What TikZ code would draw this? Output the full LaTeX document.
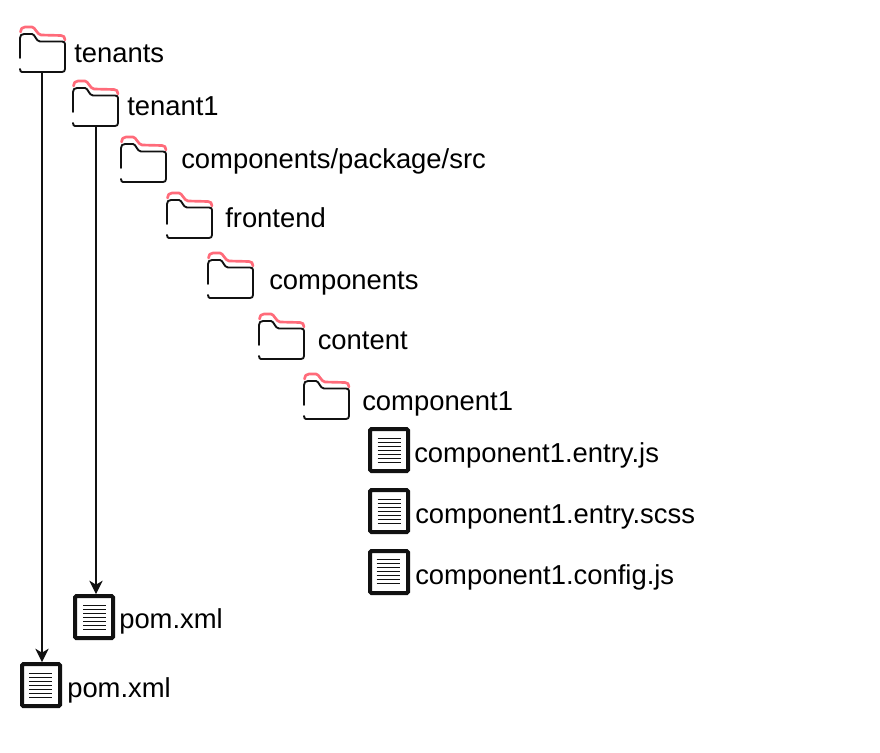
\documentclass[tikz,border=0pt]{standalone}
\usepackage{fontspec}
\setmainfont{Liberation Sans}
\usetikzlibrary{arrows.meta}
\definecolor{tabred}{HTML}{FF6B7A}
\definecolor{ink}{HTML}{111111}
\tikzset{
  x=0.75pt,y=-0.75pt,
  label text/.style={anchor=base west,inner sep=0pt,font=\fontsize{20.55pt}{24pt}\selectfont,text=black},
  doc box/.style={draw=ink,line width=3pt,rounded corners=1pt,fill=white,minimum width=28.5pt,minimum height=31.5pt,inner sep=0pt,anchor=north west},
  doc lines/.style={draw=ink,line width=1.15pt},
  folder line/.style={draw=ink,line width=1.4pt,line cap=round,line join=round},
  tab line/.style={draw=tabred,line width=2pt,line cap=round,line join=round},
  link/.style={draw=ink,line width=0.9pt,-{Stealth[length=10pt,width=10pt,inset=3pt]}},
  folder/.pic={
    \path[tab line] (0.5,5) .. controls (0.5,2) and (2,0) .. (5,0) -- (12,0) .. controls (15,0) and (17,7.5) .. (21,8) -- (41,8.5) .. controls (43.5,8.5) and (45,10) .. (45,13);
    \path[folder line] (0,31) -- (0,11) .. controls (0,8.5) and (1.5,7) .. (4,7) -- (12,7) .. controls (15,7) and (16,14.5) .. (20,14.5) -- (42,14.5) .. controls (44,14.5) and (45,15.5) .. (45,17) -- (45,42) .. controls (45,44) and (44,45) .. (42,45) -- (2,45) .. controls (1,45) and (0,44) .. (0,42);
  },
  doclines/.pic={
    \foreach \yy in {0,4,...,24} {\path[doc lines] (0,\yy) -- (23,\yy);}
  }
}
\begin{document}
\begin{tikzpicture}
\useasboundingbox (0,0) rectangle (880,752);
\path (20,27) pic {folder};
\coordinate (f1) at (42,72);
\path (73,81) pic {folder};
\coordinate (f2) at (96,126);
\path (121,137) pic {folder};
\path (167,193) pic {folder};
\path (208,253) pic {folder};
\path (259,314) pic {folder};
\path (304,374) pic {folder};

\node[label text] (tenants) at (74,63) {tenants};
\node[label text] (tenant1) at (127,116) {tenant1};
\node[label text] (cps) at (181,169) {components/package/src};
\node[label text] (frontend) at (225,227) {frontend};
\node[label text] (components) at (269,289) {components};
\node[label text] (content) at (317.5,349) {content};
\node[label text] (component1) at (362,410) {component1};
\node[label text] (entryjs) at (414,462) {component1.entry.js};
\node[label text] (entryscss) at (415,523) {component1.entry.scss};
\node[label text] (configjs) at (415,584) {component1.config.js};
\node[label text] (pom2) at (119,628) {pom.xml};
\node[label text] (pom1) at (67,697) {pom.xml};

\node[doc box] (d1) at (368,427) {};
\node[doc box] (d2) at (368,488) {};
\node[doc box] (d3) at (368,549) {};
\node[doc box] (dp2) at (73,594) {};
\node[doc box] (dp1) at (20,662) {};
\path (377.5,438.5) pic {doclines};
\path (377.5,499.5) pic {doclines};
\path (376.5,559.5) pic {doclines};
\path (83,605.5) pic {doclines};
\path (29,673.5) pic {doclines};

\draw[link] (f1) -- (f1 |- dp1.north);
\draw[link] (f2) -- (f2 |- dp2.north);
\end{tikzpicture}
\end{document}
